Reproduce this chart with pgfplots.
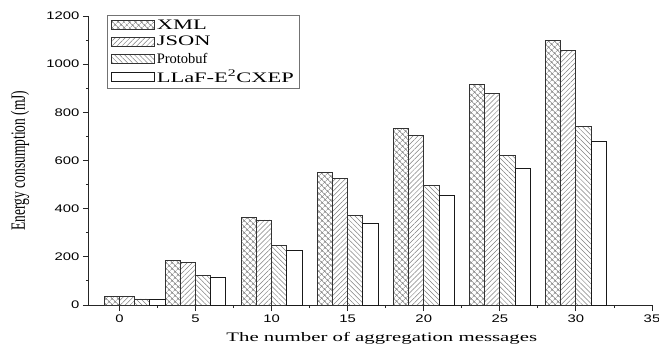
\documentclass[border=0pt]{standalone}
\usepackage{pgfplots}
\pgfplotsset{compat=1.18}
\usetikzlibrary{patterns.meta}
\usepackage{fontspec}
\setmainfont{Liberation Serif}
\newfontfamily\tickfont[FakeStretch=1.35]{Liberation Sans}
\newfontfamily\xlabfont[FakeStretch=1.6]{Liberation Serif}
\newfontfamily\legfont{Liberation Serif}
\newfontfamily\legcaps[FakeStretch=1.55]{Liberation Serif}
\begin{document}
\begin{tikzpicture}
\pgfplotsset{mylegend/.style={legend image code/.code={\draw[##1] (0pt,-4.5pt) rectangle (43pt,4.5pt);}}}
\begin{axis}[
  scale only axis, width=563pt, height=289pt,
  xmin=-2, xmax=35, ymin=0, ymax=1200,
  axis x line*=bottom, axis y line*=left,
  axis line style={-, line width=1pt, black!85},
  xtick={0,5,...,35}, ytick={0,200,...,1200},
  minor x tick num=1, minor y tick num=1,
  tick align=outside, major tick length=6pt, minor tick length=3pt,
  every tick/.style={black!85, line width=0.9pt},
  /pgf/number format/assume math mode=true,
  /pgf/number format/1000 sep={},
  tick label style={font=\fontsize{11}{13}\selectfont\tickfont},
  xlabel={\fontsize{13}{15}\selectfont\xlabfont The number of aggregation messages},
  xlabel style={at={(axis description cs:0.52,-0.128)}, anchor=base},
  ylabel={\scalebox{1}[1.5]{\fontsize{13.5}{15}\selectfont Energy consumption (mJ)}},
  ylabel style={at={(axis description cs:-0.1226,0.5)}, anchor=center},
  ybar, bar width=1,
  legend style={at={(axis description cs:0,1)}, anchor=north west, xshift=18pt, yshift=1pt,
    draw=black!55, line width=0.8pt, font=\fontsize{14.5}{15}\selectfont\legfont,
    row sep=2.5pt, nodes={inner sep=1.5pt}, inner xsep=4pt, inner ysep=3pt},
  legend cell align=left,
]
\coordinate (o) at (rel axis cs:0,0);
\coordinate (t) at (rel axis cs:1,1);
\addplot[mylegend, bar shift=-1.5, draw=black!80, line width=0.9pt, pattern={Hatch[angle=45,distance=4pt,line width=0.5pt]}, pattern color=gray]
  coordinates {(1,37) (5,184) (10,365) (15,549) (20,734) (25,915) (30,1099)};
\addlegendentry{{\legcaps XML}}
\addplot[mylegend, bar shift=-0.5, draw=black!80, line width=0.9pt, pattern={Lines[angle=45,distance=3.5pt,line width=0.5pt]}, pattern color=gray]
  coordinates {(1,36) (5,177) (10,353) (15,526) (20,705) (25,880) (30,1058)};
\addlegendentry{{\legcaps JSON}}
\addplot[mylegend, bar shift=0.5, draw=black!80, line width=0.9pt, pattern={Lines[angle=-45,distance=3.5pt,line width=0.5pt]}, pattern color=gray]
  coordinates {(1,25) (5,123) (10,248) (15,371) (20,497) (25,622) (30,743)};
\addlegendentry{Protobuf}
\addplot[mylegend, bar shift=1.5, draw=black!90, line width=0.9pt, fill=white]
  coordinates {(1,23) (5,113) (10,228) (15,339) (20,453) (25,568) (30,680)};
\addlegendentry{{\legcaps LLaF-E\textsuperscript{2}CXEP}}
\end{axis}
\pgfresetboundingbox
\path ([xshift=-89pt,yshift=-46pt]o) rectangle ([xshift=7pt,yshift=16pt]t);
\end{tikzpicture}
\end{document}
